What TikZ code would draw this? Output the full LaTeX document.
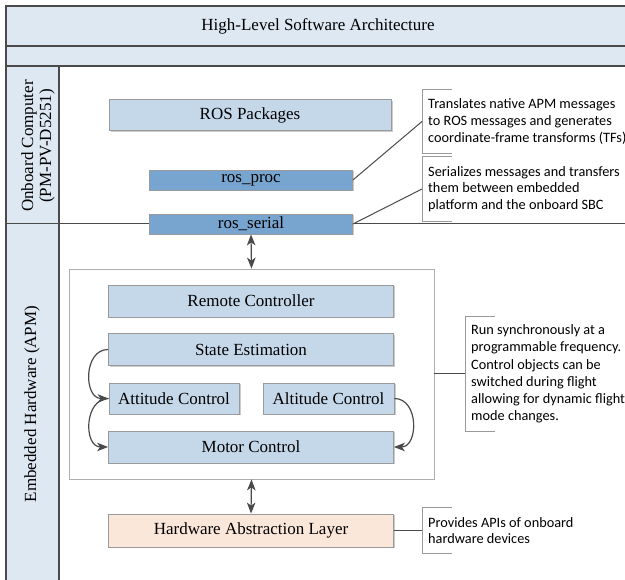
\documentclass[tikz,border=0pt]{standalone}
\usepackage{fontspec}
\setmainfont{Liberation Serif}
\newfontfamily\calib{Carlito}
\usetikzlibrary{arrows.meta,shadows}
\definecolor{band}{HTML}{DDE8F3}
\definecolor{boxblue}{HTML}{C5D8EA}
\definecolor{darkblue}{HTML}{78A5D0}
\definecolor{peach}{HTML}{FBE6DA}
\definecolor{framec}{HTML}{4A4A4A}
\definecolor{edgec}{HTML}{9A9A9A}
\begin{document}
\begin{tikzpicture}[x=1pt,y=-1pt,
  box/.style={draw=edgec, line width=0.8pt, fill=boxblue, inner sep=0pt,
    font=\fontsize{17}{20}\selectfont,
    drop shadow={shadow xshift=1.5pt,shadow yshift=-1.5pt,fill=black!40,opacity=0.5}},
  dbox/.style={box, fill=darkblue},
  hbox/.style={box, fill=peach},
  callout/.style={font=\calib\fontsize{14.3}{16.8}\selectfont, align=left,
    inner xsep=6pt, inner ysep=0pt, anchor=west},
  brk/.style={draw=edgec, line width=0.8pt},
  conn/.style={draw=framec, line width=1pt},
  tip/.tip={Stealth[length=11pt,width=8.5pt,inset=3pt]},
  arr/.style={draw=framec, line width=1.2pt, -tip},
  darr/.style={draw=framec, line width=1.2pt, tip-tip},
  framel/.style={draw=framec, line width=1.4pt},
  lbl/.style={font=\fontsize{17}{18}\selectfont, align=center, rotate=90}
]
\useasboundingbox (0,0) rectangle (625,580);
% backgrounds
\fill[band] (6,6) rectangle (625,66);
\fill[band] (6,66) rectangle (59,580);
% frame lines
\draw[framel] (5,6) -- (625,6);
\draw[framel] (6,6) -- (6,580);
\draw[framel] (6,46) -- (625,46);
\draw[framel] (6,66) -- (625,66);
\draw[framel] (59,66) -- (59,580);
\draw[framec, line width=1pt] (6,224) -- (625,224);
% labels
\node[font=\fontsize{17}{20}\selectfont] (title) at (318,26) {High-Level Software Architecture};
\node[lbl] (onb) at (38,146) {Onboard Computer\\(PM-PV-D5251)};
\node[lbl] (emb) at (32,404) {Embedded Hardware (APM)};
% onboard boxes
\node[box, minimum width=282pt, minimum height=31pt] (ros) at (250,115) {ROS Packages};
\node[dbox, minimum width=203pt, minimum height=20pt] (proc) at (251,180) {ros\_proc};
\node[dbox, minimum width=203pt, minimum height=20pt] (serial) at (251,224) {ros\_serial};
% embedded
\node[draw=edgec!80, line width=0.8pt, fill=white, minimum width=365pt, minimum height=210pt, inner sep=0pt] (big) at (251.5,374) {};
\node[box, minimum width=285pt, minimum height=32pt] (remote) at (251,301) {Remote Controller};
\node[box, minimum width=285pt, minimum height=32pt] (state) at (251,349.5) {State Estimation};
\node[box, minimum width=130pt, minimum height=31pt] (att) at (174,398.5) {Attitude Control};
\node[box, minimum width=131pt, minimum height=31pt] (alt) at (328.5,398.5) {Altitude Control};
\node[box, minimum width=285pt, minimum height=32pt] (motor) at (251,447) {Motor Control};
\node[hbox, minimum width=285pt, minimum height=33pt] (hal) at (251,530.5) {Hardware Abstraction Layer};
% arrows
\draw[darr] (serial.south) -- (big.north);
\draw[darr] (big.south) -- (hal.north);
\draw[arr] (state.west) to[out=180,in=180,looseness=1.3] (att.west);
\draw[arr] (att.west) to[out=180,in=180,looseness=1.3] (motor.west);
\draw[arr] (alt.east) to[out=0,in=0,looseness=1.3] (motor.east);
% callouts
\node[callout, minimum height=63pt] (c1) at (422,121.5) {Translates native APM messages\\to ROS messages and generates\\coordinate-frame transforms (TFs)};
\node[callout, minimum height=64pt] (c2) at (422,189) {Serializes messages and transfers\\them between embedded\\platform and the onboard SBC};
\node[callout, minimum height=114pt, font=\calib\fontsize{14.3}{17.2}\selectfont] (c3) at (465,374) {Run synchronously at a\\programmable frequency.\\Control objects can be\\switched during flight\\allowing for dynamic flight\\mode changes.};
\node[callout, minimum height=45pt] (c4) at (422,530.5) {Provides APIs of onboard\\hardware devices};
\foreach \c in {c1,c2,c3,c4}{
  \draw[brk] ([xshift=30pt]\c.north west) -- (\c.north west) -- (\c.south west) -- ([xshift=30pt]\c.south west);
}
\draw[conn] (proc.east) -- (c1.west);
\draw[conn] (serial.east) -- (c2.west);
\draw[conn] (big.east) -- (c3.west);
\draw[conn] (hal.east) -- (c4.west);
\end{tikzpicture}
\end{document}
